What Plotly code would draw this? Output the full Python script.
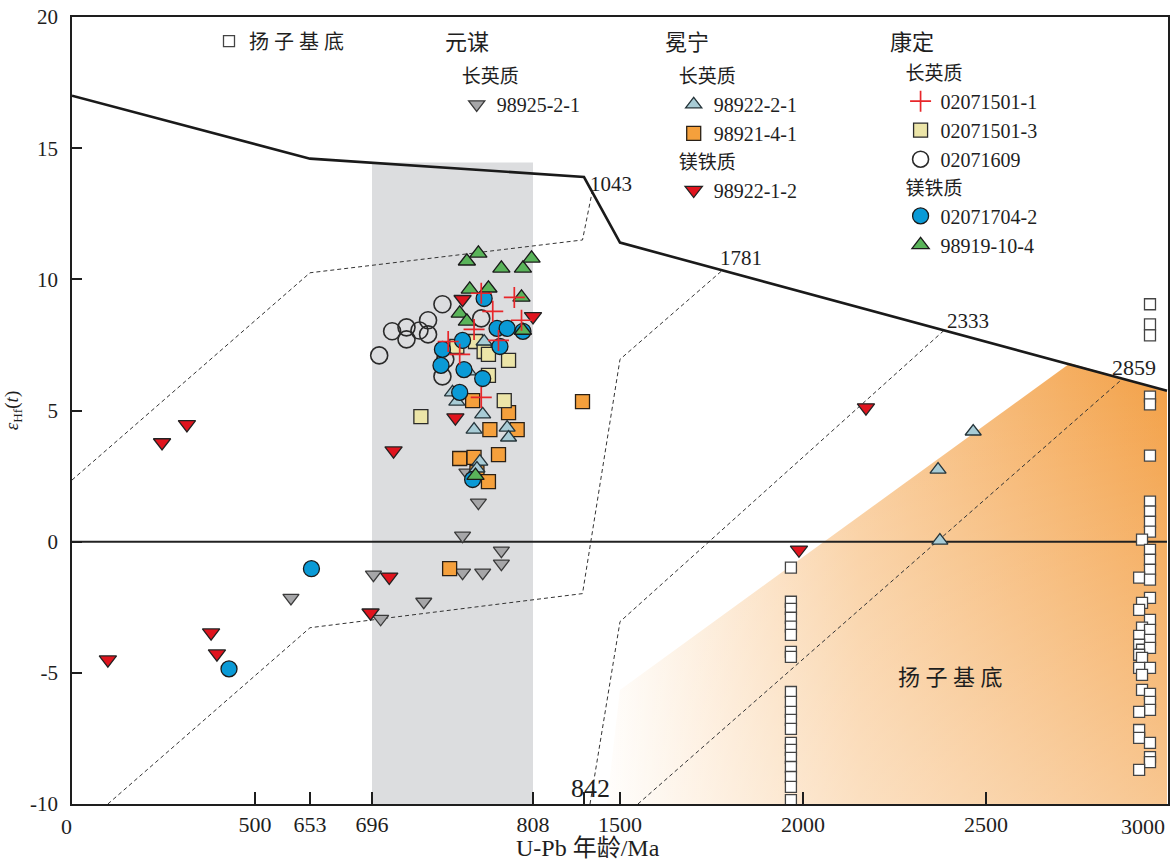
import numpy as np
import plotly.graph_objects as go

# ---------------- axis definition (piecewise, as in the original figure) ----------------
AXIS_AGES = [0, 500, 653, 696, 808, 842, 1500, 2000, 2500, 3000]
AXIS_POS = [0, 183, 238, 300, 461, 512, 548, 731, 914, 1095]
TICK_AGES = [0, 500, 653, 696, 808, 842, 1500, 2000, 2500, 3000]
TICK_TEXT = [" ", "500", "653", "696", "808", " ", "1500", "2000", "2500", " "]
FIRST_TICK = "0"
LAST_TICK = "3000"
X_TITLE = "U-Pb 年龄/Ma"
Y_TICKS = [-10, -5, 0, 5, 10, 15, 20]
Y_TEXT = ["-10", "-5", "0", "5", "10", "15", "20"]


def X(a):
    return np.interp(np.asarray(a, dtype=float), AXIS_AGES, AXIS_POS)


# ---------------- reference curves ----------------
DM_AGE = [0, 653, 842, 1500, 3000]
DM_EHF = [17.0, 14.6, 13.9, 11.4, 5.75]
CRUST1_AGE = [0, 653, 841, 988]
CRUST1_EHF = [2.35, 10.25, 11.5, 13.3]
CRUST2_AGE = [98, 653, 841, 1500, 1781]
CRUST2_EHF = [-10, -3.28, -1.98, 6.95, 10.36]
CRUST3_AGE = [952, 1500, 2385]
CRUST3_EHF = [-10, -3.05, 8.05]
CRUST4_AGE = [1549, 2878]
CRUST4_EHF = [-10, 6.22]
BASE_AGE = [1262, 1500, 2732, 3000, 3000]
BASE_EHF = [-10, -5.65, 6.8, 5.75, -10]
BAND_AGE = [696, 808]
BAND_TOP = 14.45

# ---------------- samples ----------------
# 元谋 长英质 98925-2-1
y1_age = [600, 697, 702, 732, 759, 759, 762, 770, 773, 786, 786]
y1_ehf = [-2.14, -1.26, -2.94, -2.29, -1.18, 0.23, 2.63, 1.49, -1.18, -0.34, -0.84]
# 冕宁 长英质 98922-2-1
m1_age = [774, 763, 752, 755, 773, 767, 790, 791, 771, 769, 2369, 2465, 2374]
m1_ehf = [7.63, 6.49, 5.69, 5.34, 4.85, 4.27, 4.35, 3.97, 3.05, 2.79, 2.75, 4.20, 0.04]
# 冕宁 长英质 98921-4-1
m2_age = [766, 791, 778, 797, 784, 757, 767, 769, 777, 750, 841]
m2_ehf = [5.38, 4.92, 4.27, 4.27, 3.32, 3.17, 3.21, 2.63, 2.29, -1.03, 5.34]
# 冕宁 镁铁质 98922-1-2
m3_age = [98, 246, 314, 380, 396, 695, 708, 711, 754, 759, 808, 1989, 2172]
m3_ehf = [-4.50, 3.78, 4.47, -3.47, -4.27, -2.71, -1.34, 3.47, 4.73, 9.24, 8.59, -0.31, 5.11]
# 康定 长英质 02071501-1
k1_age = [749, 757, 767, 772, 780, 795, 800, 772, 784]
k1_ehf = [7.63, 7.14, 8.09, 9.47, 8.78, 9.31, 8.44, 5.50, 7.67]
# 康定 长英质 02071501-3
k2_age = [755, 768, 774, 777, 791, 777, 788, 730]
k2_ehf = [7.44, 7.63, 7.25, 7.14, 6.91, 6.34, 5.38, 4.77]
# 康定 长英质 02071609
k3_age = [701, 710, 720, 720, 729, 735, 735, 745, 772, 747, 745]
k3_ehf = [7.10, 8.02, 8.17, 7.71, 8.05, 8.44, 7.90, 9.05, 8.51, 6.95, 6.30]
# 康定 镁铁质 02071704-2
k4_age = [429, 654, 745, 744, 757, 759, 760, 766, 773, 774, 783, 785, 790, 801]
k4_ehf = [-4.85, -1.03, 7.33, 6.72, 5.69, 7.67, 6.56, 2.37, 6.22, 9.27, 8.13, 7.44, 8.13, 8.02]
# 康定 镁铁质 98919-10-4
k5_age = [762, 770, 786, 801, 807, 764, 777, 800, 757, 762, 801, 768]
k5_ehf = [10.69, 10.99, 10.42, 10.42, 10.80, 9.62, 9.66, 9.31, 8.70, 8.40, 8.05, 2.52]
# 扬子基底
yz_age = [1967] * 20 + [2953] * 10 + [2931, 2953, 2953, 2953, 2923, 2953, 2953, 2931, 2923,
                                       2953, 2931, 2953, 2923, 2953, 2923, 2931, 2953, 2923,
                                       2931, 2953, 2923, 2931, 2931, 2953, 2953, 2953, 2923,
                                       2923, 2923, 2953, 2953, 2953, 2923]
yz_ehf = [-0.99, -2.29, -2.56, -2.90, -3.24, -3.55, -4.20, -4.39, -5.73, -6.11, -6.49, -6.79,
          -7.14, -7.67, -7.94, -8.24, -8.59, -8.97, -9.35, -9.85,
          9.05, 8.28, 7.86, 5.53, 5.23, 3.28, 1.53, 1.15, 0.76, 0.38,
          0.08, -0.31, -0.69, -1.07, -1.37, -1.45, -2.14, -2.33, -2.60,
          -2.98, -3.28, -3.36, -3.59, -3.74, -3.93, -4.12, -4.05, -4.31,
          -4.43, -4.81, -4.81, -5.08, -5.65, -5.80, -6.11, -6.41, -6.49,
          -7.18, -7.48, -7.67, -8.21, -8.40, -8.70]

REGIONS = ["元谋", "冕宁", "康定"]
REGION_X = [0.360, 0.561, 0.766]

SERIF = "Liberation Serif, Noto Sans CJK SC, serif"
INK = "#1e1e1e"

fig = go.Figure()

# Yangtze basement gradient field
fig.add_trace(go.Scatter(
    x=X(BASE_AGE), y=BASE_EHF, mode="lines", fill="toself", line=dict(width=0),
    fillgradient=dict(type="horizontal",
                      colorscale=[[0, "rgb(255,253,250)"], [0.45, "rgb(249,203,152)"], [1, "rgb(243,160,70)"]]),
    hoverinfo="skip", showlegend=False))
fig.add_trace(go.Scatter(
    x=X(BASE_AGE), y=BASE_EHF, mode="lines", fill="toself", line=dict(width=0),
    fillgradient=dict(type="vertical",
                      colorscale=[[0, "rgba(255,255,255,0.4)"], [1, "rgba(255,255,255,0)"]]),
    hoverinfo="skip", showlegend=False))

# gray band
fig.add_shape(type="rect", xref="x", yref="y", x0=float(X(BAND_AGE[0])), x1=float(X(BAND_AGE[1])),
              y0=-10, y1=BAND_TOP, fillcolor="#dcdddf", line=dict(width=0), layer="below")

# crustal evolution lines
for a, e in [(CRUST1_AGE, CRUST1_EHF), (CRUST2_AGE, CRUST2_EHF), (CRUST3_AGE, CRUST3_EHF), (CRUST4_AGE, CRUST4_EHF)]:
    fig.add_trace(go.Scatter(x=X(a), y=e, mode="lines", line=dict(color="#333", width=1, dash="4px,3px"),
                             hoverinfo="skip", showlegend=False))
# CHUR line
fig.add_trace(go.Scatter(x=X([0, 3000]), y=[0, 0], mode="lines", line=dict(color="#222", width=2),
                         hoverinfo="skip", showlegend=False))
# depleted mantle
fig.add_trace(go.Scatter(x=X(DM_AGE), y=DM_EHF, mode="lines", line=dict(color="#1a1a1a", width=2.6),
                         hoverinfo="skip", showlegend=False))


def pts(age, ehf, name, legend, group, gtitle, rank, **marker):
    kw = {}
    if gtitle:
        kw["legendgrouptitle"] = dict(text=gtitle, font=dict(size=19))
    fig.add_trace(go.Scatter(x=X(age), y=ehf, mode="markers", name=name, legend=legend,
                             legendgroup=group, legendrank=rank, marker=marker, **kw))


pts(yz_age, yz_ehf, "扬 子 基 底", "legend4", "yz", None, 1,
    symbol="square", size=11, color="white", line=dict(color="#444", width=1.3))
pts(y1_age, y1_ehf, "98925-2-1", "legend", "y_f", "长英质", 1,
    symbol="triangle-down", size=14, color="#a6a6a8", line=dict(color="#3a3a3a", width=1.3))
pts(m2_age, m2_ehf, "98921-4-1", "legend2", "m_f", "长英质", 2,
    symbol="square", size=14, color="#f5a03c", line=dict(color="#2a2016", width=1.3))
pts(k2_age, k2_ehf, "02071501-3", "legend3", "k_f", "长英质", 2,
    symbol="square", size=14, color="#ece5a8", line=dict(color="#2a2a2a", width=1.3))
pts(m1_age, m1_ehf, "98922-2-1", "legend2", "m_f", "长英质", 1,
    symbol="triangle-up", size=14, color="#a8ccd6", line=dict(color="#25343a", width=1.3))
pts(k3_age, k3_ehf, "02071609", "legend3", "k_f", "长英质", 3,
    symbol="circle-open", size=17, color="#2a2a2a", line=dict(width=1.6))
pts(k4_age, k4_ehf, "02071704-2", "legend3", "k_m", "镁铁质", 4,
    symbol="circle", size=16, color="#0a9ad6", line=dict(color="#1a1a1a", width=1.3))
pts(k5_age, k5_ehf, "98919-10-4", "legend3", "k_m", "镁铁质", 5,
    symbol="triangle-up", size=15, color="#5ab45a", line=dict(color="#1a1a1a", width=1.3))
pts(m3_age, m3_ehf, "98922-1-2", "legend2", "m_m", "镁铁质", 3,
    symbol="triangle-down", size=15, color="#e0141e", line=dict(color="#222", width=1.3))
pts(k1_age, k1_ehf, "02071501-1", "legend3", "k_f", "长英质", 1,
    symbol="cross-thin", size=15, color="#e8262a", line=dict(color="#e8262a", width=1.7))


# annotations
def note(age, ehf, text, xs, ys, size=21, anchor="left"):
    fig.add_annotation(x=float(X(age)), y=ehf, text=text, showarrow=False, xanchor=anchor,
                       yanchor="middle", xshift=xs, yshift=ys, font=dict(family=SERIF, size=size, color=INK))


note(842, 13.9, "1043", 4, -7)
note(CRUST2_AGE[-1], CRUST2_EHF[-1], "1781", -5, 12)
note(CRUST3_AGE[-1], CRUST3_EHF[-1], "2333", 1, 9)
note(CRUST4_AGE[-1], CRUST4_EHF[-1], "2859", -13, 11, size=22)
note(CRUST3_AGE[0], -10, "842", 0, 16, size=26, anchor="center")
note(2402, -5.19, "扬 子 基 底", 0, 0, size=22, anchor="center")

# end tick labels kept beside their ticks (as in the original)
fig.add_annotation(x=float(X(0)), y=0, xref="x", yref="paper", text=FIRST_TICK, showarrow=False,
                   xanchor="right", yanchor="top", yshift=-8, xshift=2,
                   font=dict(family=SERIF, size=22, color=INK))
fig.add_annotation(x=float(X(3000)), y=0, xref="x", yref="paper", text=LAST_TICK, showarrow=False,
                   xanchor="right", yanchor="top", yshift=-8, font=dict(family=SERIF, size=22, color=INK))
# axis title
fig.add_annotation(x=0.471, y=0, xref="paper", yref="paper", text=X_TITLE, showarrow=False,
                   xanchor="center", yanchor="middle", yshift=-44, font=dict(family=SERIF, size=24, color=INK))

for name, px in zip(REGIONS, REGION_X):
    fig.add_annotation(x=px, y=0.968, xref="paper", yref="paper", text=name, showarrow=False,
                       xanchor="center", yanchor="middle", font=dict(family=SERIF, size=22, color=INK))

leg_common = dict(xanchor="left", yanchor="top", bgcolor="rgba(0,0,0,0)", borderwidth=0,
                  font=dict(family=SERIF, size=20, color=INK), traceorder="grouped",
                  tracegroupgap=0, itemwidth=30, itemclick=False)
fig.update_layout(
    width=1170, height=861,
    margin=dict(l=72, r=2, t=17, b=57),
    plot_bgcolor="white", paper_bgcolor="white",
    font=dict(family=SERIF, color=INK),
    xaxis=dict(range=[0, 1096], tickvals=list(X(TICK_AGES)), ticktext=TICK_TEXT,
               ticks="inside", ticklen=12, tickwidth=1.5, tickcolor=INK, automargin=False,
               showline=True, linecolor=INK, linewidth=1.5, mirror=True,
               showgrid=False, zeroline=False, tickfont=dict(size=22)),
    yaxis=dict(range=[-10, 20], tickvals=Y_TICKS, ticktext=Y_TEXT, ticks="inside", ticklen=10,
               tickwidth=1.5, automargin=False,
               tickcolor=INK, showline=True, linecolor=INK, linewidth=1.5, mirror=True,
               showgrid=False, zeroline=False, tickfont=dict(size=21), ticklabelstandoff=8,
               title=dict(text="<i>ε</i><sub>Hf</sub>(<i>t</i>)", font=dict(size=19), standoff=6)),
    legend=dict(x=0.351, y=0.949, **leg_common),
    legend2=dict(x=0.549, y=0.949, **leg_common),
    legend3=dict(x=0.756, y=0.953, **leg_common),
    legend4=dict(x=0.125, y=0.994, **leg_common),
)

fig.write_html("out.html", config={"displayModeBar": False},
               post_script="document.body.style.margin='0';document.body.style.overflow='hidden';")
